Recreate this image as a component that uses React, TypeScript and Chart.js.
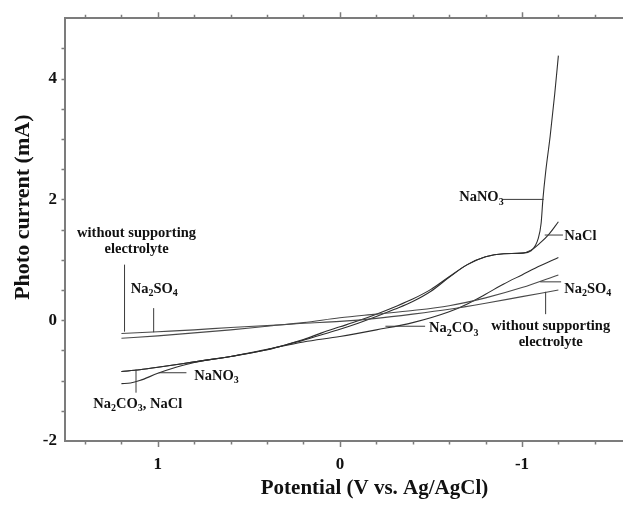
import React, { useEffect, useRef } from 'react';
import { Chart, registerables } from 'chart.js';

Chart.register(...registerables);

// ---------- data ----------
const wseX = [1.2, 1.0, 0.8, 0.6, 0.4, 0.2, 0.0, -0.2, -0.4, -0.6, -0.8, -1.0, -1.2];
const wseY = [-0.22, -0.19, -0.16, -0.12, -0.09, -0.05, -0.02, 0.03, 0.10, 0.18, 0.28, 0.39, 0.50];

const na2so4X = [1.2, 1.0, 0.8, 0.6, 0.4, 0.2, 0.0, -0.2, -0.4, -0.6, -0.8, -1.0, -1.2];
const na2so4Y = [-0.30, -0.26, -0.21, -0.16, -0.10, -0.04, 0.04, 0.10, 0.16, 0.24, 0.37, 0.54, 0.75];

const na2co3X = [1.2, 1.1, 1.0, 0.8, 0.6, 0.4, 0.2, 0.0, -0.2, -0.4, -0.6, -0.7, -0.8, -0.9, -1.0, -1.1, -1.2];
const na2co3Y = [-0.85, -0.82, -0.78, -0.69, -0.60, -0.48, -0.36, -0.27, -0.16, -0.04, 0.14, 0.27, 0.43, 0.60, 0.75, 0.90, 1.04];

const naclX = [1.2, 1.1, 1.0, 0.8, 0.6, 0.4, 0.3, 0.2, 0.1, 0.0, -0.1, -0.2, -0.3, -0.4, -0.5, -0.6, -0.7, -0.8, -0.9, -1.0, -1.05, -1.1, -1.15, -1.2];
const naclY = [-0.85, -0.82, -0.78, -0.69, -0.60, -0.49, -0.41, -0.33, -0.24, -0.15, -0.05, 0.06, 0.18, 0.31, 0.48, 0.71, 0.92, 1.05, 1.10, 1.11, 1.16, 1.28, 1.43, 1.63];

const nano3X = [1.2, 1.15, 1.1, 1.0, 0.9, 0.8, 0.6, 0.4, 0.3, 0.2, 0.1, 0.0, -0.1, -0.2, -0.3, -0.4, -0.5, -0.6, -0.7, -0.8, -0.9, -1.0, -1.05, -1.09, -1.105, -1.115, -1.13, -1.155, -1.18, -1.2];
const nano3Y = [-1.05, -1.04, -1.00, -0.88, -0.78, -0.70, -0.60, -0.49, -0.41, -0.32, -0.21, -0.11, -0.01, 0.10, 0.22, 0.35, 0.51, 0.72, 0.92, 1.05, 1.10, 1.11, 1.15, 1.36, 1.60, 2.00, 2.45, 3.05, 3.75, 4.38];

const xLabelValues = [1, 0, -1];
const xTickValues = [1.4, 1.2, 1.0, 0.8, 0.6, 0.4, 0.2, 0.0, -0.2, -0.4, -0.6, -0.8, -1.0, -1.2, -1.4, -1.6, -1.8];
const yLabelValues = [-2, 0, 2, 4];
const yTickValues = [-2, -1.5, -1, -0.5, 0, 0.5, 1, 1.5, 2, 2.5, 3, 3.5, 4, 4.5];

type Seg = { t: string; sub?: boolean };
type Note = {
  lines: Seg[][];
  x: number;
  y: number;
  align: 'left' | 'center';
  leader: [number, number][];
};

const notes: Note[] = [
  {
    lines: [[{ t: 'without supporting' }], [{ t: 'electrolyte' }]],
    x: 1.117, y: 1.44, align: 'center',
    leader: [[1.183, 0.92], [1.183, -0.19]],
  },
  {
    lines: [[{ t: 'Na' }, { t: '2', sub: true }, { t: 'SO' }, { t: '4', sub: true }]],
    x: 1.02, y: 0.52, align: 'center',
    leader: [[1.023, 0.2], [1.023, -0.2]],
  },
  {
    lines: [[{ t: 'Na' }, { t: '2', sub: true }, { t: 'CO' }, { t: '3', sub: true }, { t: ', NaCl' }]],
    x: 1.11, y: -1.385, align: 'center',
    leader: [[1.12, -0.82], [1.12, -1.2]],
  },
  {
    lines: [[{ t: 'NaNO' }, { t: '3', sub: true }]],
    x: 0.8, y: -0.92, align: 'left',
    leader: [[0.995, -0.87], [0.843, -0.87]],
  },
  {
    lines: [[{ t: 'Na' }, { t: '2', sub: true }, { t: 'CO' }, { t: '3', sub: true }]],
    x: -0.49, y: -0.135, align: 'left',
    leader: [[-0.25, -0.1], [-0.468, -0.1]],
  },
  {
    lines: [[{ t: 'without supporting' }], [{ t: 'electrolyte' }]],
    x: -1.158, y: -0.107, align: 'center',
    leader: [[-1.13, 0.47], [-1.13, 0.1]],
  },
  {
    lines: [[{ t: 'Na' }, { t: '2', sub: true }, { t: 'SO' }, { t: '4', sub: true }]],
    x: -1.232, y: 0.52, align: 'left',
    leader: [[-1.1, 0.635], [-1.215, 0.635]],
  },
  {
    lines: [[{ t: 'NaCl' }]],
    x: -1.232, y: 1.39, align: 'left',
    leader: [[-1.125, 1.41], [-1.225, 1.41]],
  },
  {
    lines: [[{ t: 'NaNO' }, { t: '3', sub: true }]],
    x: -0.655, y: 2.04, align: 'left',
    leader: [[-0.894, 2.0], [-1.119, 2.0]],
  },
];

// ---------- styles ----------
const FAMILY = "'Liberation Serif', 'Times New Roman', serif";
const AXIS = '#7c7c7c';
const INK = '#111111';
const LINE_DARK = '#2e2e2e';
const LINE_GRAY = '#4a4a4a';

function drawRich(ctx: CanvasRenderingContext2D, segs: Seg[], x: number, y: number, align: 'left' | 'center') {
  const mainFont = `bold 14.5px ${FAMILY}`;
  const subFont = `bold 10px ${FAMILY}`;
  const widths = segs.map((s) => {
    ctx.font = s.sub ? subFont : mainFont;
    return ctx.measureText(s.t).width;
  });
  const total = widths.reduce((a, b) => a + b, 0);
  let cx = align === 'center' ? x - total / 2 : x;
  ctx.textAlign = 'left';
  ctx.textBaseline = 'middle';
  segs.forEach((s, i) => {
    ctx.font = s.sub ? subFont : mainFont;
    ctx.fillText(s.t, cx, y + (s.sub ? 5 : 0));
    cx += widths[i];
  });
}

const decorPlugin = {
  id: 'decor',
  afterDraw(chart: any) {
    const { ctx, chartArea } = chart;
    const xs = chart.scales.x;
    const ys = chart.scales.y;
    ctx.save();
    // tick marks
    ctx.strokeStyle = AXIS;
    ctx.lineWidth = 1.5;
    ctx.beginPath();
    xTickValues.forEach((v) => {
      const px = Math.round(xs.getPixelForValue(v)) + 0.5;
      if (px < chartArea.left + 2 || px > chartArea.right) return;
      const major = xLabelValues.some((m) => Math.abs(m - v) < 1e-6);
      const len = major ? 6 : 3.5;
      ctx.moveTo(px, chartArea.bottom);
      ctx.lineTo(px, chartArea.bottom + len);
      ctx.moveTo(px, chartArea.top);
      ctx.lineTo(px, chartArea.top - len);
    });
    yTickValues.forEach((v) => {
      const py = Math.round(ys.getPixelForValue(v)) + 0.5;
      if (py > chartArea.bottom - 2 || py < chartArea.top) return;
      ctx.moveTo(chartArea.left, py);
      ctx.lineTo(chartArea.left - 3.5, py);
    });
    ctx.stroke();

    // y axis title
    ctx.fillStyle = INK;
    ctx.font = `bold 22px ${FAMILY}`;
    ctx.textAlign = 'center';
    ctx.textBaseline = 'middle';
    ctx.translate(23, chartArea.top + (chartArea.bottom - chartArea.top) * 0.447);
    ctx.rotate(-Math.PI / 2);
    ctx.fillText('Photo current (mA)', 0, 0);
    ctx.restore();

    // annotations
    ctx.save();
    ctx.strokeStyle = '#3a3a3a';
    ctx.lineWidth = 1;
    ctx.fillStyle = INK;
    notes.forEach((n) => {
      ctx.beginPath();
      n.leader.forEach(([lx, ly], i) => {
        const px = xs.getPixelForValue(lx);
        const py = ys.getPixelForValue(ly);
        if (i === 0) ctx.moveTo(px, py);
        else ctx.lineTo(px, py);
      });
      ctx.stroke();
      const bx = xs.getPixelForValue(n.x);
      const by = ys.getPixelForValue(n.y);
      n.lines.forEach((segs, i) => drawRich(ctx, segs, bx, by + i * 16, n.align));
    });
    ctx.restore();
  },
};

function pts(xs: number[], ys: number[]) {
  return xs.map((x, i) => ({ x, y: ys[i] }));
}

export default function App() {
  const ref = useRef<HTMLCanvasElement | null>(null);

  useEffect(() => {
    document.body.style.margin = '0';
    if (!ref.current) return;
    const mk = (label: string, xs: number[], ys: number[], color: string, width: number) => ({
      label,
      data: pts(xs, ys),
      borderColor: color,
      borderWidth: width,
      pointRadius: 0,
      fill: false,
      cubicInterpolationMode: 'monotone' as const,
    });
    const chart = new Chart(ref.current, {
      type: 'line',
      data: {
        datasets: [
          mk('without supporting electrolyte', wseX, wseY, LINE_GRAY, 1.1),
          mk('Na2SO4', na2so4X, na2so4Y, LINE_GRAY, 1.1),
          mk('Na2CO3', na2co3X, na2co3Y, LINE_DARK, 1.1),
          mk('NaCl', naclX, naclY, LINE_DARK, 1.1),
          mk('NaNO3', nano3X, nano3Y, LINE_DARK, 1.1),
        ],
      },
      options: {
        responsive: false,
        animation: false,
        layout: { padding: { left: 0, right: 6, top: 0, bottom: 0 } },
        plugins: { legend: { display: false }, tooltip: { enabled: false } },
        scales: {
          x: {
            type: 'linear',
            position: 'bottom',
            reverse: true,
            min: -1.89,
            max: 1.51,
            afterBuildTicks: (s: any) => {
              s.ticks = xLabelValues.map((v) => ({ value: v }));
            },
            afterFit: (s: any) => {
              s.height = 66;
            },
            grid: { display: false, drawTicks: false },
            border: { display: true, color: AXIS, width: 2 },
            ticks: {
              color: INK,
              font: { family: FAMILY, size: 17, weight: 'bold' },
              padding: 13,
              maxRotation: 0,
              autoSkip: false,
              callback: (v: any) => String(v),
            },
            title: {
              display: true,
              text: 'Potential (V vs. Ag/AgCl)',
              color: INK,
              font: { family: FAMILY, size: 21, weight: 'bold' },
              padding: { top: 0, bottom: 6 },
            },
          },
          xTop: {
            type: 'linear',
            position: 'top',
            reverse: true,
            min: -1.89,
            max: 1.51,
            afterFit: (s: any) => {
              s.height = 15;
            },
            grid: { display: false, drawTicks: false },
            border: { display: true, color: AXIS, width: 2 },
            ticks: { display: false },
          },
          y: {
            type: 'linear',
            position: 'left',
            min: -2,
            max: 5,
            afterBuildTicks: (s: any) => {
              s.ticks = yLabelValues.map((v) => ({ value: v }));
            },
            afterFit: (s: any) => {
              s.width = 65;
            },
            grid: { display: false, drawTicks: false },
            border: { display: true, color: AXIS, width: 2 },
            ticks: {
              color: INK,
              font: { family: FAMILY, size: 17, weight: 'bold' },
              padding: 8,
              autoSkip: false,
              callback: (v: any) => String(v),
            },
          },
        },
      } as any,
      plugins: [decorPlugin],
    });
    return () => chart.destroy();
  }, []);

  return (
    <div style={{ width: 623, height: 507, overflow: 'hidden', background: '#fff' }}>
      <canvas ref={ref} width={690} height={507} style={{ display: 'block' }} />
    </div>
  );
}
